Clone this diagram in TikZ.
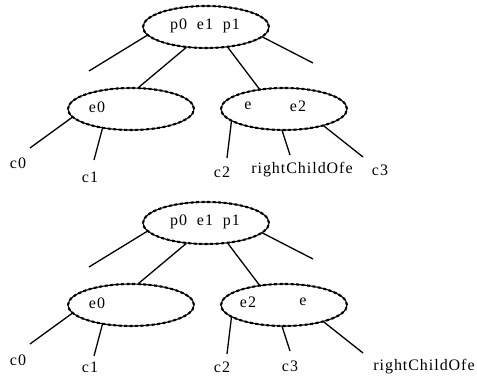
\documentclass[tikz,border=0pt]{standalone}
\usepackage{fontspec}
\setmainfont{Liberation Serif}[LetterSpace=6]
\usetikzlibrary{shapes.geometric}
\tikzset{
  keynode/.style={ellipse, draw, line width=1.1pt, minimum width=126pt, minimum height=42pt, inner sep=0pt,
    postaction={draw, dash pattern=on 3pt off 2.5pt, line width=2.1pt}},
  keytext/.style={font=\fontsize{16}{18}\selectfont, inner sep=0pt},
  edge/.style={line width=1.3pt}
}
\begin{document}
\begin{tikzpicture}[x=1pt, y=-1pt]
  \useasboundingbox (0,0) rectangle (477,379);
  % premier arbre
  \begin{scope}
    \node[keynode] (topA) at (206,27) {};
    \node[keytext] (kA) at (205,26) {p0\ \ e1\ \ p1};
    \node[keynode] (leftA) at (131,109) {};
    \node[keytext] (eA0) at (97,107) {e0};
    \node[keynode] (rightA) at (284,109) {};
    \node[keytext] (eA) at (248,106) {e};
    \node[keytext] (eA2) at (298,106) {e2};
    \coordinate (dlA) at (89,71);
    \coordinate (drA) at (313,63);
    \coordinate (c0A) at (30,148);
    \coordinate (c1A) at (94,160);
    \coordinate (c2A) at (227,158);
    \coordinate (rcA) at (290,155);
    \coordinate (c3A) at (363,157);
    \draw[edge] (topA.188) -- (dlA);
    \draw[edge] (topA.350) -- (drA);
    \draw[edge] (topA.226) -- (leftA.71);
    \draw[edge] (topA.317) -- (rightA.141);
    \draw[edge] (leftA.188) -- (c0A);
    \draw[edge] (leftA.214) -- (c1A);
    \draw[edge] (rightA.193) -- (c2A);
    \draw[edge] (rightA.265) -- (rcA);
    \draw[edge] (rightA.337) -- (c3A);
    \node[keytext] (lc0A) at (18,163) {c0};
    \node[keytext] (lc1A) at (90,177) {c1};
    \node[keytext] (lc2A) at (222,172) {c2};
    \node[keytext] (lrcA) at (302,170) {rightChildOfe};
    \node[keytext] (lc3A) at (380,170) {c3};
  \end{scope}
  % second arbre
  \begin{scope}[shift={(0,196)}]
    \node[keynode] (topB) at (206,27) {};
    \node[keytext] (kB) at (205,26) {p0\ \ e1\ \ p1};
    \node[keynode] (leftB) at (131,109) {};
    \node[keytext] (eB0) at (97,107) {e0};
    \node[keynode] (rightB) at (284,109) {};
    \node[keytext] (eB2) at (248,106) {e2};
    \node[keytext] (eB) at (303,106) {e};
    \coordinate (dlB) at (89,71);
    \coordinate (drB) at (313,63);
    \coordinate (c0B) at (30,148);
    \coordinate (c1B) at (94,160);
    \coordinate (c2B) at (227,158);
    \coordinate (c3B) at (290,155);
    \coordinate (rcB) at (363,157);
    \draw[edge] (topB.188) -- (dlB);
    \draw[edge] (topB.350) -- (drB);
    \draw[edge] (topB.226) -- (leftB.71);
    \draw[edge] (topB.317) -- (rightB.141);
    \draw[edge] (leftB.188) -- (c0B);
    \draw[edge] (leftB.214) -- (c1B);
    \draw[edge] (rightB.193) -- (c2B);
    \draw[edge] (rightB.265) -- (c3B);
    \draw[edge] (rightB.337) -- (rcB);
    \node[keytext] (lc0B) at (18,164) {c0};
    \node[keytext] (lc1B) at (90,171) {c1};
    \node[keytext] (lc2B) at (222,171) {c2};
    \node[keytext] (lc3B) at (290,170) {c3};
    \node[keytext] (lrcB) at (424,171) {rightChildOfe};
  \end{scope}
\end{tikzpicture}
\end{document}
